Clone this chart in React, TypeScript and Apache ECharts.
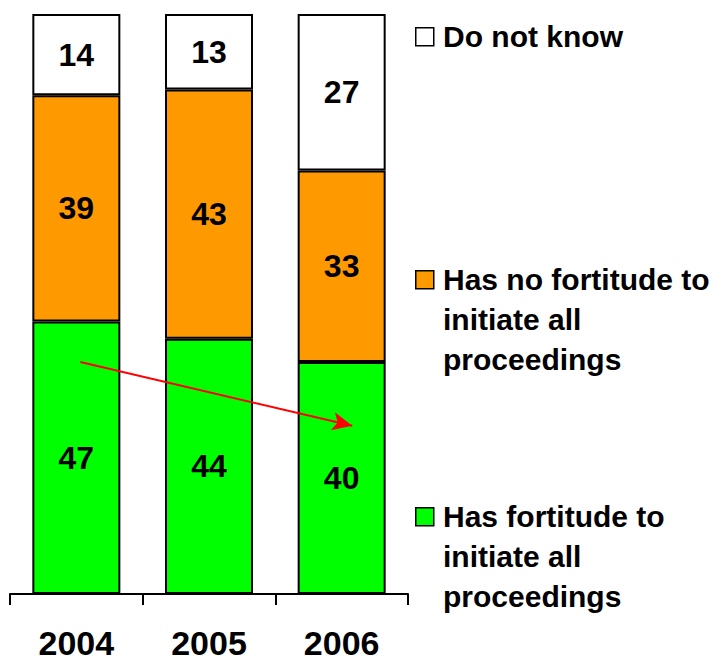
import React, { useEffect, useRef } from "react";
import * as echarts from "echarts";

const categories = ["2004", "2005", "2006"];
const hasFortitude = [47, 44, 40];
const noFortitude = [39, 43, 33];
const doNotKnow = [14, 13, 27];
const seriesNames = [
  "Has fortitude to\ninitiate all\nproceedings",
  "Has no fortitude to\ninitiate all\nproceedings",
  "Do not know",
];
const colors = ["#00FF00", "#FF9900", "#FFFFFF"];
// trend arrow: [category position, value] start and end
const arrowStart = [0.53, 40];
const arrowEnd = [2.58, 29];

const FONT = "'Liberation Sans', Arial, Helvetica, sans-serif";

export default function App() {
  const ref = useRef<HTMLDivElement>(null);
  useEffect(() => {
    if (!ref.current) return;
    const chart = echarts.init(ref.current, null, { renderer: "svg" });
    const values = [hasFortitude, noFortitude, doNotKnow];
    const barSeries = values.map((d, i) => ({
      type: "bar",
      name: seriesNames[i],
      stack: "total",
      data: d,
      barWidth: 88,
      xAxisIndex: 0,
      yAxisIndex: 0,
      itemStyle: { color: colors[i], borderColor: "#000", borderWidth: 2 },
      label: {
        show: true,
        position: "inside",
        color: "#000",
        fontSize: 32,
        fontWeight: "bold",
        fontFamily: FONT,
      },
    }));
    const legendTops = [496, 259, 16];
    const graphic: any[] = [];
    seriesNames.forEach((name, i) => {
      graphic.push({
        type: "rect",
        left: 415,
        top: legendTops[i] + 11,
        shape: { width: 18, height: 18 },
        style: { fill: colors[i], stroke: "#000", lineWidth: 1.5 },
      });
      graphic.push({
        type: "text",
        left: 443,
        top: legendTops[i],
        style: {
          text: name,
          fill: "#000",
          font: `bold 30px ${FONT}`,
          lineHeight: 40,
          verticalAlign: "top",
        },
      });
    });
    chart.setOption({
      animation: false,
      backgroundColor: "#fff",
      grid: { left: 10, right: 316, top: 14, bottom: 67, containLabel: false },
      xAxis: [
        {
          type: "category",
          data: categories,
          axisLine: { show: true, lineStyle: { color: "#000", width: 2 } },
          axisTick: { show: true, length: 11, lineStyle: { color: "#000", width: 2 } },
          axisLabel: {
            color: "#000",
            fontSize: 34,
            fontWeight: "bold",
            fontFamily: FONT,
            margin: 32,
          },
        },
        { type: "value", min: 0, max: 3, show: false },
      ],
      yAxis: [{ type: "value", min: 0, max: 100, show: false }],
      series: [
        ...barSeries,
        {
          type: "line",
          xAxisIndex: 1,
          yAxisIndex: 0,
          data: [],
          silent: true,
          markLine: {
            silent: true,
            symbol: ["none", "arrow"],
            symbolSize: [14, 20],
            label: { show: false },
            lineStyle: { color: "#FF0000", width: 2, type: "solid" },
            data: [[{ coord: arrowStart }, { coord: arrowEnd }]],
          },
        },
      ],
      graphic,
    });
    return () => chart.dispose();
  }, []);
  return (
    <div
      ref={ref}
      style={{ position: "fixed", left: 0, top: 0, width: 724, height: 661 }}
    />
  );
}
